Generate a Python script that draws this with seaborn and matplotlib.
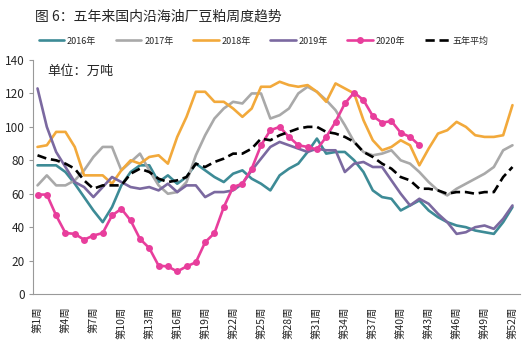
import numpy as np
import pandas as pd
import seaborn as sns
import matplotlib.pyplot as plt

# weekly data (unit: 10k tonnes)
weeks = list(range(1, 53))
y2016 = [77, 77, 77, 73, 66, 58, 50, 43, 52, 65, 73, 77, 77, 67, 71, 66, 70, 78, 74, 70,
         67, 72, 74, 69, 66, 62, 71, 75, 78, 85, 93, 84, 85, 85, 80, 73, 62, 58, 57, 50,
         53, 56, 50, 46, 43, 41, 40, 38, 37, 36, 43, 52]
y2017 = [65, 71, 65, 65, 68, 74, 82, 88, 88, 74, 79, 84, 74, 65, 60, 61, 67, 83, 95, 105,
         111, 115, 114, 120, 120, 105, 107, 111, 120, 124, 121, 116, 110, 101, 91, 85, 83, 84, 86, 80,
         78, 73, 67, 62, 59, 63, 66, 69, 72, 76, 86, 89]
y2018 = [88, 89, 97, 97, 88, 71, 71, 71, 66, 74, 80, 78, 82, 83, 78, 94, 106, 121, 121, 115,
         115, 111, 106, 111, 124, 124, 127, 125, 124, 125, 121, 115, 126, 123, 120, 104, 92, 86, 88, 92,
         89, 77, 87, 96, 98, 103, 100, 95, 94, 94, 95, 113]
y2019 = [123, 100, 85, 76, 67, 64, 58, 64, 70, 67, 64, 63, 64, 62, 66, 61, 65, 65, 58, 61,
         61, 62, 66, 74, 81, 88, 91, 89, 87, 85, 87, 86, 86, 73, 78, 79, 76, 76, 68, 60,
         53, 57, 54, 48, 43, 36, 37, 40, 41, 39, 45, 53]
y2020 = [59.5, 59.5, 47, 36.5, 36, 32.5, 35, 36.5, 47, 51, 44, 33, 27.5, 17, 16.5, 13.5, 16.5, 19, 31, 36.5,
         52, 64, 66, 75, 89, 98, 100, 94, 89, 88, 86.5, 94, 103, 114, 120.5, 116, 106.5, 102.5, 103.5, 96.5,
         94, 89]
avg5 = [83, 81, 80, 78, 75, 68, 63, 65, 65, 65, 72, 75, 73, 69, 67, 68, 70, 78, 76, 79,
        81, 84, 84, 87, 93, 92, 95, 97, 99, 100, 100, 97, 96, 94, 91, 85, 82, 78, 75, 70,
        68, 63, 63, 62, 60, 61, 61, 60, 61, 61, 70, 76]

label_weeks = list(range(1, 53, 3))
tick_labels = ['第%d周' % w for w in label_weeks]

sns.set_style('white')
plt.rcParams['font.family'] = ['Noto Sans CJK SC', 'DejaVu Sans']

fig = plt.figure(figsize=(5.3, 3.53), dpi=100)
ax = fig.add_axes([0.062, 0.167, 0.919, 0.663])

sns.lineplot(x=weeks, y=y2016, ax=ax, color='#3d8b96', lw=1.9, label='2016年')
sns.lineplot(x=weeks, y=y2017, ax=ax, color='#a9a9a9', lw=1.9, label='2017年')
sns.lineplot(x=weeks, y=y2018, ax=ax, color='#f2a93b', lw=1.9, label='2018年')
sns.lineplot(x=weeks, y=y2019, ax=ax, color='#7b69a0', lw=1.9, label='2019年')
sns.lineplot(x=weeks[:len(y2020)], y=y2020, ax=ax, color='#e83e9c', lw=1.9, marker='o',
             markersize=5, markeredgewidth=0, label='2020年')
sns.lineplot(x=weeks, y=avg5, ax=ax, color='black', lw=1.9, linestyle=(0, (3.5, 1.8)), label='五年平均')

ax.set_xlim(0.5, 52.8)
ax.set_ylim(0, 140)
ax.set_yticks(range(0, 141, 20))
ax.set_xticks(label_weeks)
ax.set_xticklabels(tick_labels, rotation=90, va='top', ha='center', fontsize=7.5)
ax.set_xticks(weeks, minor=True)
ax.tick_params(axis='x', which='both', direction='in', length=3, color='#999999', pad=9)
ax.tick_params(axis='y', direction='out', length=3, color='#999999', labelsize=8.5, pad=3)
ax.tick_params(axis='y', left=True)
for s in ['top', 'right']:
    ax.spines[s].set_visible(False)
for s in ['left', 'bottom']:
    ax.spines[s].set_color('#999999')
    ax.spines[s].set_linewidth(0.8)

ax.text(2.0, 133, '单位：万吨', fontsize=9.5, va='center', ha='left')

handles, labels = ax.get_legend_handles_labels()
ax.get_legend().remove()
fig.legend(handles, labels, loc='center', bbox_to_anchor=(0.498, 0.884), ncol=6, frameon=False,
           fontsize=6.5, handlelength=2.8, handletextpad=0.3, columnspacing=2.2)

fig.text(0.066, 0.952, '图 6：五年来国内沿海油厂豆粕周度趋势', fontsize=10, va='center', ha='left')

fig.savefig('out.png', dpi=100)
